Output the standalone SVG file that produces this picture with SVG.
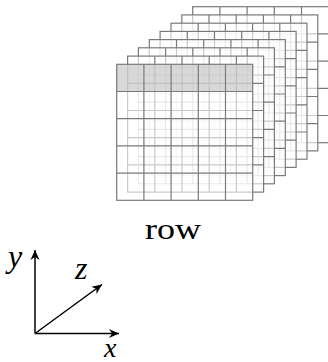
<svg xmlns="http://www.w3.org/2000/svg" xmlns:xlink="http://www.w3.org/1999/xlink" width="328" height="362" viewBox="0 0 328 362">
<style>
.bg{fill:#ffffff;fill-opacity:0.6;stroke:none}
.gl{fill:none;stroke:#7a7a7a;stroke-width:1.2}
.hl{fill:#b8b8b8;fill-opacity:0.55;stroke:none}
.ax{stroke:#000;stroke-width:1.5;fill:none}
.lbl{font-family:"Liberation Serif",serif;fill:#000}
.it{font-style:italic;font-size:32px}
</style>
<defs>
<g id="lines">
<rect x="0" y="0" width="136" height="136"/>
<path d="M27.2,0V136M54.4,0V136M81.6,0V136M108.8,0V136M0,27.2H136M0,54.4H136M0,81.6H136M0,108.8H136"/>
</g>
<marker id="arr" markerWidth="12" markerHeight="10" refX="10" refY="5" orient="auto" markerUnits="userSpaceOnUse">
<path d="M10,5 L0,0.5 L3,5 L0,9.5 Z" fill="#000"/>
</marker>
</defs>
<g id="layer8" transform="translate(192.7,6.7)"><rect class="bg" width="136" height="136"/><use xlink:href="#lines" class="gl"/></g>
<g id="layer7" transform="translate(181.8,14.9)"><rect class="bg" width="136" height="136"/><use xlink:href="#lines" class="gl"/></g>
<g id="layer6" transform="translate(171,23.2)"><rect class="bg" width="136" height="136"/><use xlink:href="#lines" class="gl"/></g>
<g id="layer5" transform="translate(160.1,31.4)"><rect class="bg" width="136" height="136"/><use xlink:href="#lines" class="gl"/></g>
<g id="layer4" transform="translate(149.3,39.6)"><rect class="bg" width="136" height="136"/><use xlink:href="#lines" class="gl"/></g>
<g id="layer3" transform="translate(138.4,47.8)"><rect class="bg" width="136" height="136"/><use xlink:href="#lines" class="gl"/></g>
<g id="layer2" transform="translate(127.6,56.1)"><rect class="bg" width="136" height="136"/><use xlink:href="#lines" class="gl"/></g>
<g id="layer1" transform="translate(116.7,64.3)"><rect class="bg" width="136" height="136"/><rect class="hl" width="136" height="27.2"/><use xlink:href="#lines" class="gl"/></g>
<text id="row" class="lbl" x="145" y="238.5" font-size="30" textLength="56" lengthAdjust="spacingAndGlyphs">row</text>
<g id="connectors">
<line class="ax" x1="35" y1="333.5" x2="35" y2="250" marker-end="url(#arr)"/>
<line class="ax" x1="35" y1="333.5" x2="119" y2="333.5" marker-end="url(#arr)"/>
<line class="ax" x1="35" y1="333.5" x2="102" y2="284.5" marker-end="url(#arr)"/>
</g>
<text id="ylabel" class="lbl it" x="8" y="267">y</text>
<text id="zlabel" class="lbl it" x="75" y="278.5">z</text>
<text id="xlabel" class="lbl" x="104" y="357" font-size="28" font-style="italic">x</text>
</svg>
